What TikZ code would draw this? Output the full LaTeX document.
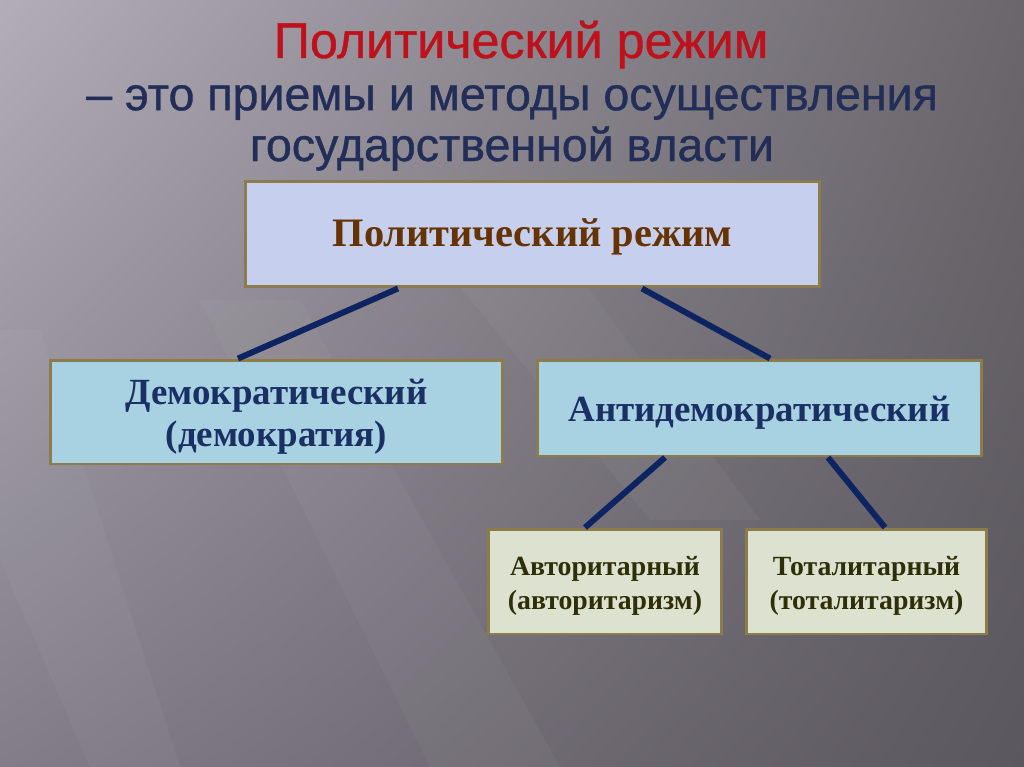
\documentclass[tikz,border=0pt]{standalone}
\usepackage{fontspec}
\usetikzlibrary{shadings}
\setmainfont{Liberation Serif}
\newfontfamily\headfont[FakeBold=0.8]{Liberation Sans}
\definecolor{bgA}{HTML}{B2ADB7}
\definecolor{bgB}{HTML}{6A666C}
\definecolor{bgC}{HTML}{827D87}
\definecolor{bgD}{HTML}{5B575E}
\definecolor{headred}{HTML}{BE111B}
\definecolor{headblue}{HTML}{222E58}
\definecolor{boxedge}{HTML}{8C7B4B}
\definecolor{linkblue}{HTML}{0E2462}
\definecolor{fillTop}{HTML}{C6D0EE}
\definecolor{fillMid}{HTML}{A8D1E1}
\definecolor{fillLow}{HTML}{DCE2CF}
\definecolor{textTop}{HTML}{663300}
\definecolor{textMid}{HTML}{1A2F63}
\definecolor{textLow}{HTML}{2E2E08}
\begin{document}
\begin{tikzpicture}[x=0.02cm, y=-0.02cm,
    box/.style={draw=boxedge, line width=1.7pt, align=center, inner sep=0pt, font=\bfseries},
    link/.style={draw=linkblue, line width=3.4pt},
    streak/.style={white, fill opacity=0.035}]
  \shade[upper left=bgA, upper right=bgB, lower left=bgC, lower right=bgD] (0,0) rectangle (1024,767);
  \fill[streak] (0,330) -- (40,330) -- (180,767) -- (90,767) -- (0,560) -- cycle;
  \fill[streak] (200,300) -- (300,300) -- (560,767) -- (430,767) -- cycle;
  \fill[streak] (430,250) -- (560,250) -- (760,520) -- (650,520) -- cycle;
  \useasboundingbox (0,0) rectangle (1024,767);
  % heading
  \node[headred, anchor=base, inner sep=0pt, font=\headfont\fontsize{28.6}{32}\selectfont] (head) at (521,58)
    {Политический режим};
  \node[headblue, anchor=base, inner sep=0pt, align=center, font=\headfont\fontsize{26.5}{28.9}\selectfont]
    (subhead) at (512,161) {– это приемы и методы осуществления\\государственной власти};
  % boxes
  \node[box, fill=fillTop, text=textTop, minimum width=11.5cm, minimum height=2.12cm,
    text height=14.7pt, text depth=0pt, font=\bfseries\fontsize{23}{27}\selectfont] (regime) at (532.5,234)
    {Политический режим};
  \node[box, fill=fillMid, text=textMid, minimum width=9.06cm, minimum height=2.08cm,
    text height=39pt, text depth=0pt, font=\bfseries\fontsize{21}{23.5}\selectfont] (demo) at (276.5,412)
    {Демократический\\(демократия)};
  \node[box, fill=fillMid, text=textMid, minimum width=8.9cm, minimum height=1.92cm,
    text height=15.9pt, text depth=0pt, font=\bfseries\fontsize{21}{22.7}\selectfont] (anti) at (759.5,408)
    {Антидемократический};
  \node[box, fill=fillLow, text=textLow, minimum width=4.68cm, minimum height=2.1cm,
    text height=32.3pt, text depth=0pt, font=\bfseries\fontsize{15.8}{19.8}\selectfont] (auth) at (605,581.5)
    {Авторитарный\\(авторитаризм)};
  \node[box, fill=fillLow, text=textLow, minimum width=4.82cm, minimum height=2.1cm,
    text height=32.3pt, text depth=0pt, font=\bfseries\fontsize{15.8}{19.8}\selectfont] (total) at (866.5,581.5)
    {Тоталитарный\\(тоталитаризм)};
  % links
  \draw[link] ([xshift=-2.69cm]regime.south) -- ([xshift=-0.77cm]demo.north);
  \draw[link] ([xshift=2.19cm]regime.south) -- ([xshift=0.21cm]anti.north);
  \draw[link] ([xshift=-1.89cm]anti.south) -- ([xshift=-0.4cm]auth.north);
  \draw[link] ([xshift=1.37cm]anti.south) -- ([xshift=0.37cm]total.north);
\end{tikzpicture}
\end{document}
